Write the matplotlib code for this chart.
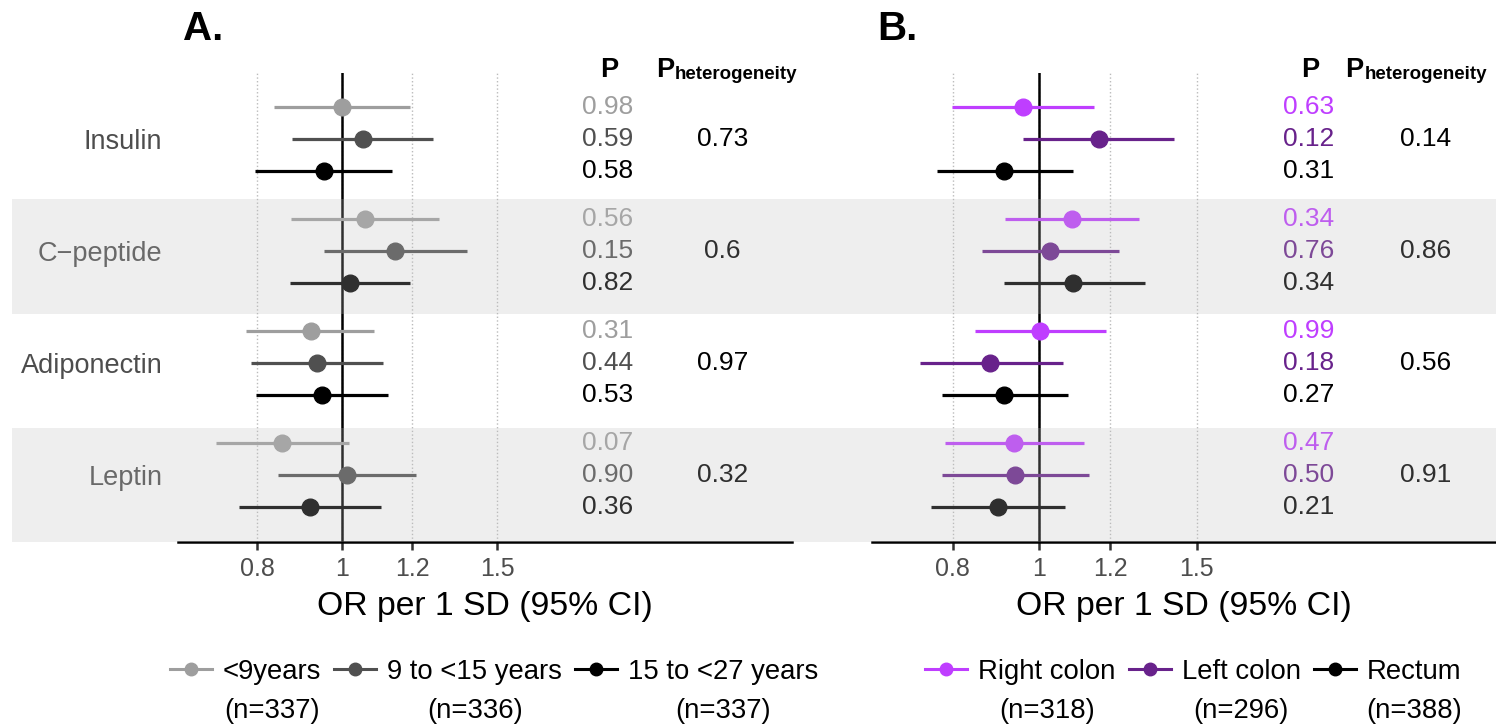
import matplotlib
matplotlib.use('Agg')
import matplotlib.pyplot as plt
import matplotlib.transforms as mtransforms
from matplotlib.lines import Line2D
from matplotlib.patches import Rectangle
from matplotlib.ticker import NullLocator

plt.rcParams['font.family'] = ['Liberation Sans', 'DejaVu Sans']

# ---------------- data ----------------
biomarkers = ['Insulin', 'C\u2212peptide', 'Adiponectin', 'Leptin']

# panel A: follow-up time groups (one list per series, order = biomarkers)
a_labels = ['<9years', '9 to <15 years', '15 to <27 years']
a_n = ['(n=337)', '(n=336)', '(n=337)']
a_colors = ['#9E9E9E', '#505050', '#000000']
a_or = [[1.00, 1.060, 0.920, 0.854],
        [1.054, 1.148, 0.935, 1.012],
        [0.952, 1.019, 0.947, 0.919]]
a_lo = [[0.837, 0.874, 0.778, 0.718],
        [0.877, 0.953, 0.788, 0.845],
        [0.796, 0.872, 0.798, 0.764]]
a_hi = [[1.194, 1.288, 1.087, 1.016],
        [1.267, 1.384, 1.112, 1.213],
        [1.139, 1.194, 1.127, 1.107]]
a_p = [['0.98', '0.56', '0.31', '0.07'],
       ['0.59', '0.15', '0.44', '0.90'],
       ['0.58', '0.82', '0.53', '0.36']]
a_phet = ['0.73', '0.6', '0.97', '0.32']

# panel B: tumour site
b_labels = ['Right colon', 'Left colon', 'Rectum']
b_n = ['(n=318)', '(n=296)', '(n=388)']
b_colors = ['#BF3EFF', '#68228B', '#000000']
b_or = [[0.958, 1.087, 1.002, 0.937],
        [1.166, 1.029, 0.881, 0.939],
        [0.914, 1.091, 0.914, 0.898]]
b_lo = [[0.798, 0.916, 0.848, 0.785],
        [0.960, 0.863, 0.735, 0.778],
        [0.769, 0.912, 0.779, 0.757]]
b_hi = [[1.151, 1.292, 1.186, 1.121],
        [1.415, 1.228, 1.062, 1.136],
        [1.090, 1.311, 1.076, 1.068]]
b_p = [['0.63', '0.34', '0.99', '0.47'],
       ['0.12', '0.76', '0.18', '0.50'],
       ['0.31', '0.34', '0.27', '0.21']]
b_phet = ['0.14', '0.86', '0.56', '0.91']

ticks = [0.8, 1, 1.2, 1.5]
tick_labels = ['0.8', '1', '1.2', '1.5']

# ---------------- layout ----------------
W, H = 1496, 726
GROUP_STEP = 3.5
Y_TOP, Y_BOTTOM = -1.08, 13.6
STRIP_TOP = -0.70
STRIP = (Y_BOTTOM - STRIP_TOP) / 4
HEAD_Y = -0.93
P_X, PHET_X = 2.0, 2.7

fig = plt.figure(figsize=(W / 100, H / 100), dpi=100)
axA = fig.add_axes([177.7 / W, (H - 542.3) / H, 614.3 / W, 469.6 / H])
axB = fig.add_axes([872 / W, (H - 542.3) / H, 624 / W, 469.6 / H])


def draw_panel(ax, ors, los, his, pv, phet, colors, labels, title, ylabels, phead_x):
    group_y = [g * GROUP_STEP for g in range(len(biomarkers))]
    for i in range(3):
        ys = [gy + i for gy in group_y]
        xerr = [[o - l for o, l in zip(ors[i], los[i])],
                [h - o for o, h in zip(ors[i], his[i])]]
        ax.errorbar(ors[i], ys, xerr=xerr, fmt='o', color=colors[i], ms=12,
                    elinewidth=2.3, capsize=0, zorder=3)
        for g, y in enumerate(ys):
            ax.text(P_X, y, pv[i][g], color=colors[i], fontsize=19,
                    ha='center', va='center')
    for g, gy in enumerate(group_y):
        ax.text(PHET_X, gy + 1, phet[g], color='black', fontsize=19,
                ha='center', va='center')

    ax.axvline(1, color='black', lw=1.8, zorder=2)
    ax.set_xscale('log')
    ax.set_xlim(0.65, 3.24)
    ax.set_xticks(ticks)
    ax.set_xticklabels(tick_labels)
    ax.xaxis.set_minor_locator(NullLocator())
    ax.set_ylim(Y_BOTTOM, Y_TOP)
    for s in ['top', 'right', 'left']:
        ax.spines[s].set_visible(False)
    ax.spines['bottom'].set_linewidth(1.8)
    ax.tick_params(axis='x', length=5.8, width=1.8, color='#333333',
                   labelsize=18, labelcolor='#4D4D4D', pad=5)
    ax.grid(axis='x', linestyle=':', color='#BBBBBB', linewidth=1.0, zorder=0)
    if ylabels:
        ax.set_yticks([gy + 1 for gy in group_y])
        ax.set_yticklabels(biomarkers)
        ax.tick_params(axis='y', length=0, pad=11, labelsize=19.5,
                       labelcolor='#4D4D4D')
    else:
        ax.set_yticks([])
    ax.set_xlabel('OR per 1 SD (95% CI)', fontsize=24.3, labelpad=7)

    # column headers
    ax.text(P_X + 0.01, HEAD_Y, 'P', fontsize=19.5, fontweight='bold',
            ha='center', va='baseline', clip_on=False)
    t = ax.text(phead_x, HEAD_Y, 'P', fontsize=19.5, fontweight='bold',
                ha='left', va='baseline', clip_on=False)
    ax.annotate('heterogeneity', xy=(1, 0), xycoords=t, xytext=(1, 0),
                textcoords='offset pixels', fontsize=13.5, fontweight='bold',
                ha='left', va='bottom')

    ax.annotate(title, xy=(0, 1), xycoords='axes fraction', xytext=(5, 32.7),
                textcoords='offset pixels', fontsize=29, fontweight='bold',
                ha='left', va='baseline')

    handles = [Line2D([], [], color=c, marker='o', ms=9, lw=2.2) for c in colors]
    leg = ax.legend(handles, labels, loc='center', bbox_to_anchor=(0.515, -0.2756),
                    ncol=3, frameon=False, fontsize=19.8, handlelength=1.53,
                    handletextpad=0.4, columnspacing=0.47, borderaxespad=0,
                    borderpad=0)
    return leg


legA = draw_panel(axA, a_or, a_lo, a_hi, a_p, a_phet, a_colors, a_labels, 'A.', True, 2.27)
legB = draw_panel(axB, b_or, b_lo, b_hi, b_p, b_phet, b_colors, b_labels, 'B.', False, 2.2)

# alternating grey strips, drawn over everything (semi-transparent)
trans = mtransforms.blended_transform_factory(fig.transFigure, axA.transData)
for k in [1, 3]:
    y0 = STRIP_TOP + k * STRIP
    fig.add_artist(Rectangle((12 / W, y0), 1 - 12 / W, STRIP, transform=trans,
                             facecolor='#BEBEBE', alpha=0.25, edgecolor='none',
                             zorder=10))

# sample sizes under the legend labels
fig.canvas.draw()
for leg, ns in [(legA, a_n), (legB, b_n)]:
    for t, n in zip(leg.get_texts(), ns):
        bb = t.get_window_extent()
        fig.text((bb.x0 + bb.x1) / 2 / W, (H - 711) / H, n, ha='center',
                 va='center', fontsize=19.8)

fig.savefig('out.png', dpi=100)
